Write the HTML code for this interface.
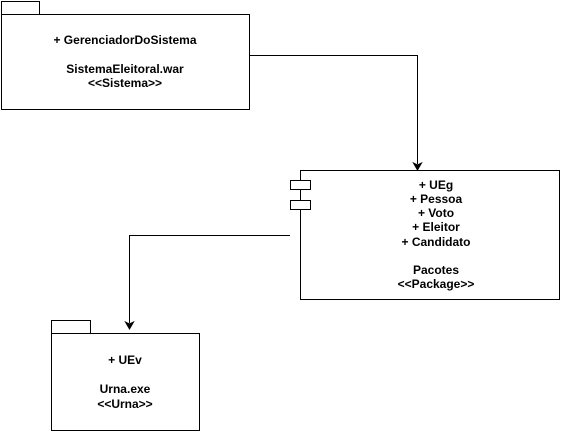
<!DOCTYPE html>
<html><head><meta charset="utf-8"><style>
html,body{margin:0;padding:0;background:#fff;width:561px;height:432px;overflow:hidden}
svg text{font-family:"Liberation Sans",Arial,sans-serif;font-size:12px;font-weight:bold;fill:#000;text-anchor:middle;dominant-baseline:central}
</style></head><body>
<svg width="561" height="432" viewBox="0 0 561 432" xmlns="http://www.w3.org/2000/svg">
<g fill="#fff" stroke="#000" stroke-width="1">
<rect x="1.5" y="1.5" width="38" height="13"/>
<rect x="1.5" y="14.5" width="248" height="95"/>
<rect x="300.5" y="170.5" width="259" height="129"/>
<rect x="290.5" y="180.5" width="20" height="9"/>
<rect x="290.5" y="200.5" width="20" height="9"/>
<rect x="51.5" y="320.5" width="39" height="13"/>
<rect x="51.5" y="333.5" width="148" height="97"/>
</g>
<g fill="none" stroke="#000" stroke-width="1">
<path d="M249.5 55.5 H417.5 V164"/>
<path d="M290 235.5 H129.5 V323"/>
</g>
<path d="M417.5 170 L413.5 163 L417.5 165 L421.5 163 Z" fill="#000" stroke="#000"/>
<path d="M129.5 329 L125.5 322 L129.5 324 L133.5 322 Z" fill="#000" stroke="#000"/>
<text x="125" y="40">+ GerenciadorDoSistema</text>
<text x="125" y="69">SistemaEleitoral.war</text>
<text x="125" y="83">&lt;&lt;Sistema&gt;&gt;</text>
<text x="436" y="185">+ UEg</text>
<text x="436" y="199">+ Pessoa</text>
<text x="436" y="213">+ Voto</text>
<text x="436" y="227">+ Eleitor</text>
<text x="436" y="242">+ Candidato</text>
<text x="436" y="270">Pacotes</text>
<text x="436" y="284">&lt;&lt;Package&gt;&gt;</text>
<text x="125" y="360">+ UEv</text>
<text x="125" y="389">Urna.exe</text>
<text x="125" y="404">&lt;&lt;Urna&gt;&gt;</text>
</svg>
</body></html>
